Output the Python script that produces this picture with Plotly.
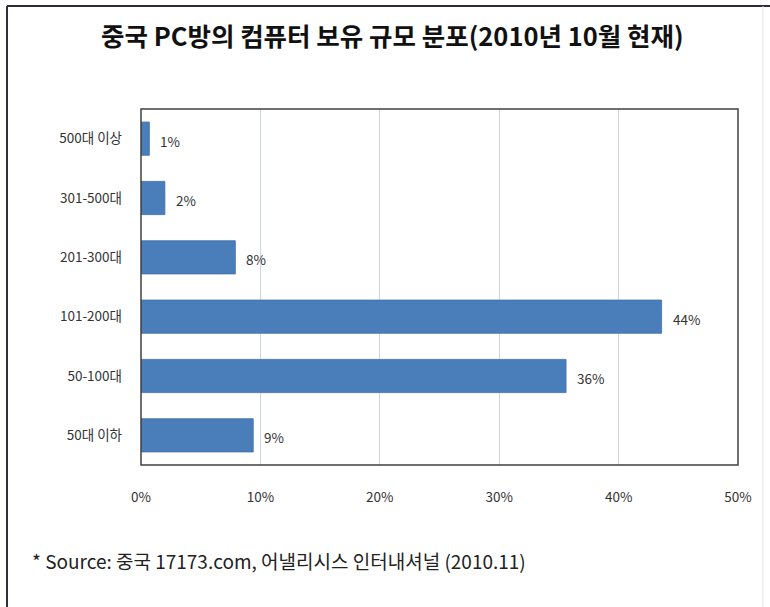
import plotly.graph_objects as go

# PC room size classes (number of PCs), top to bottom
categories = ["500대 이상", "301-500대", "201-300대", "101-200대", "50-100대", "50대 이하"]
# Share of PC rooms, %
shares = [0.7, 2.0, 7.9, 43.6, 35.6, 9.4]
x_ticks = [0, 10, 20, 30, 40, 50]
x_tick_text = ["0%", "10%", "20%", "30%", "40%", "50%"]

title_text = "중국 PC방의 컴퓨터 보유 규모 분포(2010년 10월 현재)"
source_text = "* Source: 중국 17173.com, 어낼리시스 인터내셔널 (2010.11)"

KR = "Noto Sans CJK KR"
W, H = 770, 607
L, R, T, B = 141, 32, 109, 142

fig = go.Figure()
fig.add_trace(go.Bar(
    x=shares,
    y=categories,
    orientation="h",
    marker=dict(color="#4a7ebb", line=dict(color="#3f6fa8", width=0.8)),
    hoverinfo="skip",
))

# value labels just past the end of each bar
for cat, v in zip(categories, shares):
    fig.add_annotation(
        x=v, y=cat, xref="x", yref="y",
        text=f"{v:.0f}%", showarrow=False,
        xanchor="left", yanchor="middle", xshift=9, yshift=-2,
        font=dict(family=KR, size=13.5, color="#333333"),
    )

fig.add_annotation(
    x=392, y=H - 34, xref="paper", yref="paper", text=f"<b>{title_text}</b>",
    showarrow=False, xanchor="center", yanchor="middle",
    font=dict(family=KR, size=25.5, color="#111111"),
)
fig.add_annotation(
    x=30, y=H - 560, xref="paper", yref="paper", text=source_text,
    showarrow=False, xanchor="left", yanchor="middle",
    font=dict(family=KR, size=19, color="#222222"),
)

# convert the pixel-based paper annotations to fractions
for a in fig.layout.annotations:
    if a.xref == "paper":
        a.x = (a.x - L) / (W - L - R)
        a.y = (a.y - B) / (H - T - B)

# outer frame: dark top and left edges, faint right edge
fig.add_shape(type="line", xref="paper", yref="paper",
              x0=(7 - L) / (W - L - R), x1=(W - L) / (W - L - R),
              y0=(H - 6 - B) / (H - T - B), y1=(H - 6 - B) / (H - T - B),
              line=dict(color="#2e2e3e", width=2))
fig.add_shape(type="line", xref="paper", yref="paper",
              x0=(7 - L) / (W - L - R), x1=(7 - L) / (W - L - R),
              y0=(H - 6 - B) / (H - T - B), y1=(0 - B) / (H - T - B),
              line=dict(color="#2e2e3e", width=2))
fig.add_shape(type="line", xref="paper", yref="paper",
              x0=(763 - L) / (W - L - R), x1=(763 - L) / (W - L - R),
              y0=(H - 6 - B) / (H - T - B), y1=(0 - B) / (H - T - B),
              line=dict(color="#e4e4ea", width=1))
# plot area border
fig.add_shape(type="rect", xref="paper", yref="paper", x0=0, x1=1, y0=0, y1=1,
              line=dict(color="#404040", width=1.5), layer="above")

fig.update_layout(
    width=W, height=H,
    margin=dict(l=L, r=R, t=T, b=B, pad=0),
    paper_bgcolor="#ffffff", plot_bgcolor="#ffffff",
    showlegend=False, bargap=0.44,
    xaxis=dict(
        range=[0, 50], tickvals=x_ticks, ticktext=x_tick_text,
        showgrid=True, gridcolor="#cdd5e3", gridwidth=1,
        zeroline=False, showline=False, ticks="",
        ticklabelstandoff=22,
        tickfont=dict(family=KR, size=13.5, color="#333333"),
        fixedrange=True,
    ),
    yaxis=dict(
        categoryorder="array", categoryarray=categories, autorange="reversed",
        showgrid=False, zeroline=False, showline=False, ticks="",
        ticklabelstandoff=18,
        tickfont=dict(family=KR, size=13.5, color="#333333"),
        fixedrange=True,
    ),
)

fig.write_html("out.html")
